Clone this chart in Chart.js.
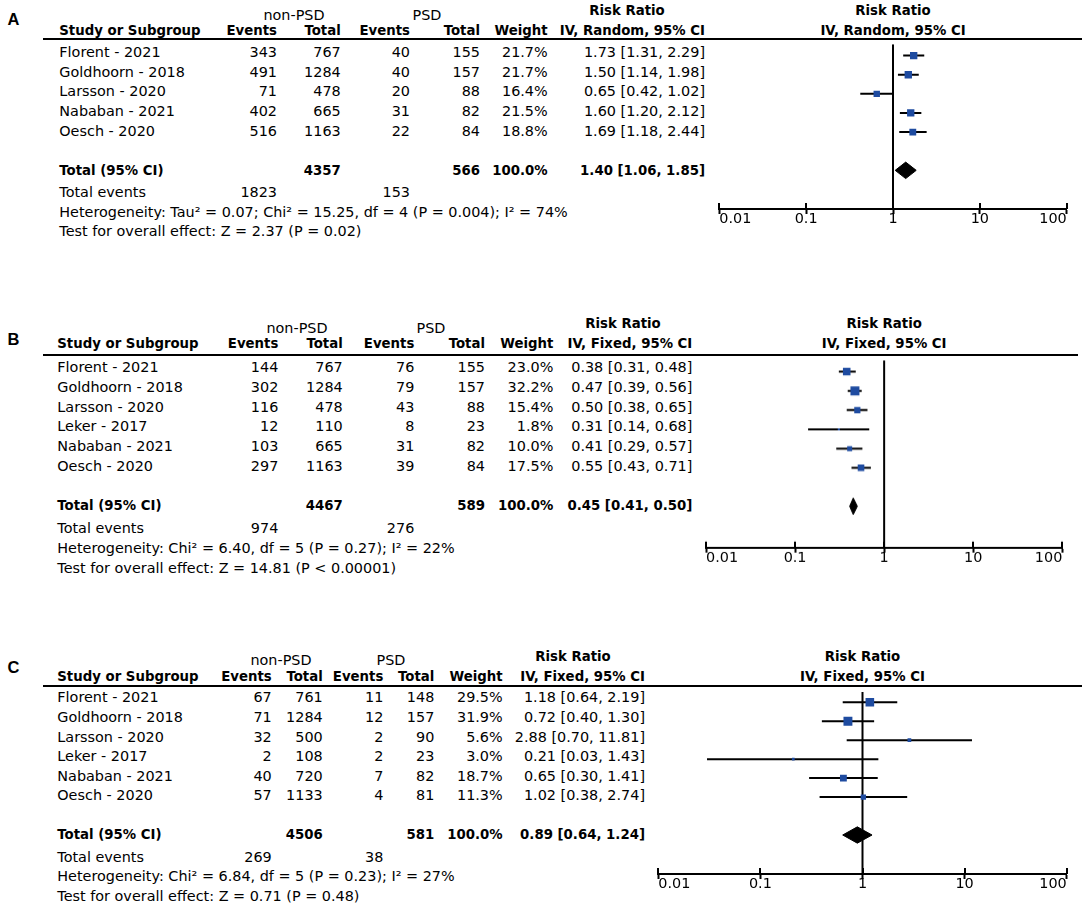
<!DOCTYPE html>
<html><head><meta charset="utf-8">
<script src="https://cdn.jsdelivr.net/npm/chart.js@4.4.1/dist/chart.umd.min.js"></script>
<style>
html,body{margin:0;padding:0;background:#fff;}
#fig{position:relative;width:1084px;height:906px;overflow:hidden;background:#fff;font-family:'DejaVu Sans',sans-serif;color:#000;}
.t{position:absolute;white-space:nowrap;}
.cw{position:absolute;}
.rule{position:absolute;height:2px;background:#000;}
</style></head><body><div id="fig"></div>
<script>
// ---------------- DATA ----------------
const tickValues = [0.01, 0.1, 1, 10, 100];
const tickLabels = ['0.01', '0.1', '1', '10', '100'];

// Panel A
const studiesA   = ['Florent - 2021','Goldhoorn - 2018','Larsson - 2020','Nababan - 2021','Oesch - 2020'];
const nonEventsA = [343, 491, 71, 402, 516];
const nonTotalA  = [767, 1284, 478, 665, 1163];
const psdEventsA = [40, 40, 20, 31, 22];
const psdTotalA  = [155, 157, 88, 82, 84];
const weightA    = [21.7, 21.7, 16.4, 21.5, 18.8];
const rrA        = [1.73, 1.50, 0.65, 1.60, 1.69];
const loA        = [1.31, 1.14, 0.42, 1.20, 1.18];
const hiA        = [2.29, 1.98, 1.02, 2.12, 2.44];
const pooledA    = [1.40, 1.06, 1.85];
const totalsA    = [1823, 4357, 153, 566, 100.0];   // non-PSD events, non-PSD total, PSD events, PSD total, weight
const methodA    = 'IV, Random, 95% CI';
const hetA       = 'Heterogeneity: Tau² = 0.07; Chi² = 15.25, df = 4 (P = 0.004); I² = 74%';
const testA      = 'Test for overall effect: Z = 2.37 (P = 0.02)';

// Panel B
const studiesB   = ['Florent - 2021','Goldhoorn - 2018','Larsson - 2020','Leker - 2017','Nababan - 2021','Oesch - 2020'];
const nonEventsB = [144, 302, 116, 12, 103, 297];
const nonTotalB  = [767, 1284, 478, 110, 665, 1163];
const psdEventsB = [76, 79, 43, 8, 31, 39];
const psdTotalB  = [155, 157, 88, 23, 82, 84];
const weightB    = [23.0, 32.2, 15.4, 1.8, 10.0, 17.5];
const rrB        = [0.38, 0.47, 0.50, 0.31, 0.41, 0.55];
const loB        = [0.31, 0.39, 0.38, 0.14, 0.29, 0.43];
const hiB        = [0.48, 0.56, 0.65, 0.68, 0.57, 0.71];
const pooledB    = [0.45, 0.41, 0.50];
const totalsB    = [974, 4467, 276, 589, 100.0];
const methodB    = 'IV, Fixed, 95% CI';
const hetB       = 'Heterogeneity: Chi² = 6.40, df = 5 (P = 0.27); I² = 22%';
const testB      = 'Test for overall effect: Z = 14.81 (P < 0.00001)';

// Panel C
const studiesC   = ['Florent - 2021','Goldhoorn - 2018','Larsson - 2020','Leker - 2017','Nababan - 2021','Oesch - 2020'];
const nonEventsC = [67, 71, 32, 2, 40, 57];
const nonTotalC  = [761, 1284, 500, 108, 720, 1133];
const psdEventsC = [11, 12, 2, 2, 7, 4];
const psdTotalC  = [148, 157, 90, 23, 82, 81];
const weightC    = [29.5, 31.9, 5.6, 3.0, 18.7, 11.3];
const rrC        = [1.18, 0.72, 2.88, 0.21, 0.65, 1.02];
const loC        = [0.64, 0.40, 0.70, 0.03, 0.30, 0.38];
const hiC        = [2.19, 1.30, 11.81, 1.43, 1.41, 2.74];
const pooledC    = [0.89, 0.64, 1.24];
const totalsC    = [269, 4506, 38, 581, 100.0];
const methodC    = 'IV, Fixed, 95% CI';
const hetC       = 'Heterogeneity: Chi² = 6.84, df = 5 (P = 0.23); I² = 27%';
const testC      = 'Test for overall effect: Z = 0.71 (P = 0.48)';

// ---------------- LAYOUT (positions only) ----------------
const layoutA = {letterBase:25, hdr:35, grpOff:15, ruleY:39.3, ruleX0:43, ruleX1:1082,
  first:51, step:19.7, footGap:22, study:59.3, nonEv:277, nonTot:340.7, psdEv:410, psdTot:480, weight:547.7, rr:705,
  nonC:294, psdC:427, rrC:627, cLeft:700, cWidth:384, padL:19.3, padR:17.3, axis:209};
const layoutB = {letterBase:345, hdr:348.3, grpOff:15, ruleY:355, ruleX0:43, ruleX1:1078,
  first:366.5, step:19.7, footGap:23, study:57.3, nonEv:278.3, nonTot:342.7, psdEv:414.3, psdTot:485, weight:553.3, rr:692.3,
  nonC:297, psdC:431, rrC:623, cLeft:690, cWidth:394, padL:16, padR:21.7, axis:546.7};
const layoutC = {letterBase:673, hdr:681.7, grpOff:16.5, ruleY:686, ruleX0:43, ruleX1:1082,
  first:696.5, step:19.6, footGap:22, study:57.3, nonEv:271.7, nonTot:322.7, psdEv:383.3, psdTot:434.3, weight:502.7, rr:645,
  nonC:281, psdC:391, rrC:573, cLeft:640, cWidth:444, padL:18.3, padR:17.3, axis:874};

const panels = [
  {letter:'A', studies:studiesA, nonEv:nonEventsA, nonTot:nonTotalA, psdEv:psdEventsA, psdTot:psdTotalA, w:weightA, rr:rrA, lo:loA, hi:hiA, pooled:pooledA, totals:totalsA, method:methodA, het:hetA, test:testA, L:layoutA},
  {letter:'B', studies:studiesB, nonEv:nonEventsB, nonTot:nonTotalB, psdEv:psdEventsB, psdTot:psdTotalB, w:weightB, rr:rrB, lo:loB, hi:hiB, pooled:pooledB, totals:totalsB, method:methodB, het:hetB, test:testB, L:layoutB},
  {letter:'C', studies:studiesC, nonEv:nonEventsC, nonTot:nonTotalC, psdEv:psdEventsC, psdTot:psdTotalC, w:weightC, rr:rrC, lo:loC, hi:hiC, pooled:pooledC, totals:totalsC, method:methodC, het:hetC, test:testC, L:layoutC}
];

// ---------------- RENDER ----------------
const fig = document.getElementById('fig');
const REG = 14.4, BOLD = 13.3, LET = 16.5;
const TICKPAD = -2;
function txt(s, x, base, o) {
  o = o || {};
  const f = o.letter ? LET : (o.bold ? BOLD : REG);
  const d = document.createElement('div');
  d.className = 't';
  d.textContent = s;
  d.style.fontSize = f + 'px';
  d.style.lineHeight = f + 'px';
  d.style.fontWeight = (o.bold || o.letter) ? 'bold' : 'normal';
  if (o.letter) d.style.fontFamily = "'Liberation Sans', Arial, sans-serif";
  d.style.top = (base - 0.846 * f) + 'px';
  if (o.align === 'right') d.style.right = (1084 - x) + 'px';
  else if (o.align === 'center') { d.style.left = x + 'px'; d.style.transform = 'translateX(-50%)'; }
  else d.style.left = x + 'px';
  fig.appendChild(d);
  return d;
}
function rule(x0, x1, y) {
  const d = document.createElement('div');
  d.className = 'rule';
  d.style.left = x0 + 'px'; d.style.width = (x1 - x0) + 'px'; d.style.top = (y - 1) + 'px';
  fig.appendChild(d);
}
const fmt2 = v => v.toFixed(2);
const ciText = (r, l, h) => fmt2(r) + ' [' + fmt2(l) + ', ' + fmt2(h) + ']';

const stubPlugin = {
  id: 'stubs',
  afterDraw(c) {
    const s = c.scales.x, g = c.ctx;
    g.save(); g.strokeStyle = '#000'; g.lineWidth = 2;
    s.ticks.forEach(t => {
      const p = Math.round(s.getPixelForValue(t.value));
      g.beginPath(); g.moveTo(p, s.top); g.lineTo(p, s.top - 6); g.stroke();
    });
    g.restore();
  }
};

function buildPanel(P) {
  const L = P.L, n = P.studies.length;
  const rowY = i => L.first + i * L.step;
  const B = 6; // baseline offset from row centre
  const R = {align:'right'}, RB = {align:'right', bold:true};

  txt(P.letter, 7.5, L.letterBase, {letter:true});
  txt('non-PSD', L.nonC, L.hdr - L.grpOff, {align:'center'});
  txt('PSD', L.psdC, L.hdr - L.grpOff, {align:'center'});
  txt('Risk Ratio', L.rrC, L.hdr - 20, {align:'center', bold:true});
  txt('Study or Subgroup', L.study, L.hdr, {bold:true});
  txt('Events', L.nonEv, L.hdr, RB);
  txt('Total', L.nonTot, L.hdr, RB);
  txt('Events', L.psdEv, L.hdr, RB);
  txt('Total', L.psdTot, L.hdr, RB);
  txt('Weight', L.weight, L.hdr, RB);
  txt(P.method, L.rr, L.hdr, RB);
  rule(L.ruleX0, L.ruleX1, L.ruleY);

  P.studies.forEach((s, i) => {
    const b = rowY(i) + B;
    txt(s, L.study, b);
    txt(String(P.nonEv[i]), L.nonEv, b, R);
    txt(String(P.nonTot[i]), L.nonTot, b, R);
    txt(String(P.psdEv[i]), L.psdEv, b, R);
    txt(String(P.psdTot[i]), L.psdTot, b, R);
    txt(P.w[i].toFixed(1) + '%', L.weight, b, R);
    txt(ciText(P.rr[i], P.lo[i], P.hi[i]), L.rr, b, R);
  });
  const totalIdx = n + 1;
  const tb = rowY(totalIdx) + B;
  txt('Total (95% CI)', L.study, tb, {bold:true});
  txt(String(P.totals[1]), L.nonTot, tb, RB);
  txt(String(P.totals[3]), L.psdTot, tb, RB);
  txt(P.totals[4].toFixed(1) + '%', L.weight, tb, RB);
  txt(ciText(P.pooled[0], P.pooled[1], P.pooled[2]), L.rr, tb, RB);
  const eb = tb + L.footGap;
  txt('Total events', L.study, eb);
  txt(String(P.totals[0]), L.nonEv, eb, R);
  txt(String(P.totals[2]), L.psdEv, eb, R);
  txt(P.het, L.study, eb + L.step);
  txt(P.test, L.study, eb + 2 * L.step);

  // ---- forest plot ----
  const cTop = Math.floor(L.ruleY);
  const padT = L.ruleY - cTop;
  const chartH = L.axis - L.ruleY;
  const axisH = 5 + REG * 1 + 2 * TICKPAD;
  const extra = 30;
  const wrap = document.createElement('div');
  wrap.className = 'cw';
  wrap.style.left = L.cLeft + 'px'; wrap.style.top = cTop + 'px';
  wrap.style.width = L.cWidth + 'px'; wrap.style.height = (padT + chartH + extra) + 'px';
  const cv = document.createElement('canvas');
  wrap.appendChild(cv); fig.appendChild(wrap);

  const yMin = (L.ruleY - L.first) / L.step;
  const yMax = (L.axis - L.first) / L.step;
  const dh = 0.43;
  const ds = [];
  ds.push({data: P.rr.map((v, i) => ({x:v, y:i})), showLine:false, pointStyle:'rect',
    pointRadius: P.w.map(w => 1.58 * Math.sqrt(w) / Math.SQRT2), pointBackgroundColor:'#1e4ba0',
    pointBorderWidth:0, borderWidth:0, order:0});
  ds.push({data:[{x:P.pooled[1], y:totalIdx}, {x:P.pooled[0], y:totalIdx - dh}, {x:P.pooled[2], y:totalIdx},
    {x:P.pooled[0], y:totalIdx + dh}, {x:P.pooled[1], y:totalIdx}],
    fill:'shape', backgroundColor:'#000', borderColor:'#000', borderWidth:1, pointRadius:0, order:1});
  P.rr.forEach((v, i) => ds.push({data:[{x:P.lo[i], y:i}, {x:P.hi[i], y:i}], borderColor:'#000',
    borderWidth:2, pointRadius:0, order:2}));
  ds.push({data:[{x:1, y:yMin}, {x:1, y:yMax}], borderColor:'#000', borderWidth:2, pointRadius:0, order:3});

  const chart = new Chart(cv, {
    type:'line',
    data:{datasets:ds},
    plugins:[stubPlugin],
    options:{
      responsive:true, maintainAspectRatio:false, animation:false, events:[],
      layout:{padding:{left:L.padL, right:L.padR, top:padT, bottom:extra - axisH}},
      elements:{line:{tension:0, borderCapStyle:'butt'}, point:{hitRadius:0}},
      plugins:{legend:{display:false}, tooltip:{enabled:false}},
      scales:{
        x:{type:'logarithmic', min:0.01, max:100,
          afterBuildTicks: s => { s.ticks = tickValues.map(v => ({value:v})); },
          ticks:{callback:(v, i) => tickLabels[i], align:'inner', maxRotation:0, autoSkip:false, padding:TICKPAD,
            color:'#000', font:{family:'DejaVu Sans', size:REG, lineHeight:1}},
          grid:{drawOnChartArea:false, drawTicks:true, tickLength:5, tickWidth:2, tickColor:'#000'},
          border:{display:true, color:'#000', width:2}},
        y:{type:'linear', min:yMin, max:yMax, reverse:true, display:false}
      }
    }
  });
  const x1 = L.cLeft + chart.scales.x.getPixelForValue(1);
  txt('Risk Ratio', x1, L.hdr - 20, {align:'center', bold:true});
  txt(P.method, x1, L.hdr, {align:'center', bold:true});
}
panels.forEach(buildPanel);
</script></body></html>
